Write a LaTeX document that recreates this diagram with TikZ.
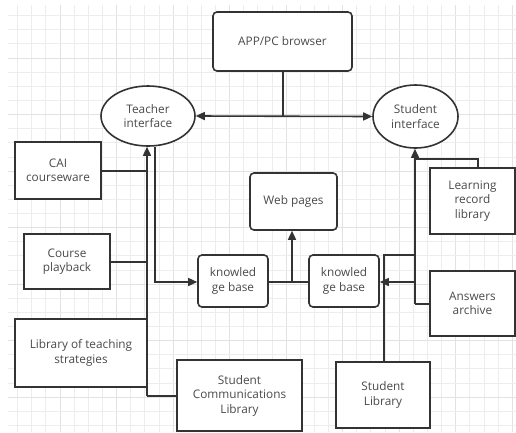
\documentclass[tikz,border=0pt]{standalone}
\usepackage{fontspec}
\setmainfont{Open Sans}
\usetikzlibrary{shapes.geometric,arrows.meta}
\definecolor{ln}{HTML}{333333}
\definecolor{tx}{HTML}{4A4A4A}
\definecolor{gmin}{HTML}{EDEDED}
\definecolor{gmaj}{HTML}{E2E2E2}
\tikzset{
  box/.style={draw=ln,line width=1.6pt,fill=white,text=tx,align=center,font=\fontsize{11.8}{14.5}\selectfont,inner sep=2pt},
  rbox/.style={box,rounded corners=4pt},
  ell/.style={box,ellipse,inner sep=0pt},
  conn/.style={draw=ln,line width=1.6pt},
  arr/.style={conn,-{Triangle[length=9pt,width=8pt]}},
  darr/.style={conn,{Triangle[length=9pt,width=8pt]}-{Triangle[length=9pt,width=8pt]}},
}
\begin{document}
\begin{tikzpicture}[x=1pt,y=-1pt]
\useasboundingbox (0,0) rectangle (516,432);
\fill[white] (0,0) rectangle (516,432);
% grid
\foreach \k in {-3,...,32}{
  \pgfmathsetmacro\gx{60+14.13*\k}
  \pgfmathtruncatemacro\mj{mod(\k+32,4)==0}
  \ifnum\mj=1 \draw[gmaj,line width=0.8pt] (\gx,5) -- (\gx,432);
  \else \draw[gmin,line width=0.8pt] (\gx,5) -- (\gx,432);\fi
}
\foreach \k in {-3,...,26}{
  \pgfmathsetmacro\gy{58+14.13*\k}
  \pgfmathtruncatemacro\mj{mod(\k+32,4)==0}
  \ifnum\mj=1 \draw[gmaj,line width=0.8pt] (8,\gy) -- (516,\gy);
  \else \draw[gmin,line width=0.8pt] (8,\gy) -- (516,\gy);\fi
}
% nodes
\node[rbox,minimum width=139pt,minimum height=59pt] (app) at (282.5,41.5) {APP/PC browser};
\node[ell,minimum width=94pt,minimum height=60pt] (teach) at (148,116) {Teacher\\interface};
\node[ell,minimum width=85pt,minimum height=63pt] (stud) at (415.5,116.5) {Student\\interface};
\node[box,minimum width=86pt,minimum height=57pt] (cai) at (58,170.5) {CAI\\courseware};
\node[box,minimum width=86pt,minimum height=55pt] (play) at (67,261.5) {Course\\playback};
\node[box,minimum width=132pt,minimum height=68pt] (strat) at (81,353) {Library of teaching\\strategies};
\node[box,minimum width=125pt,minimum height=71pt] (comm) at (239.5,395.5) {Student\\Communications\\Library};
\node[rbox,minimum width=70pt,minimum height=52pt] (kba) at (233,281) {knowled\\ge base};
\node[rbox,minimum width=70pt,minimum height=52pt] (kbb) at (344,281) {knowled\\ge base};
\node[rbox,minimum width=87pt,minimum height=57pt] (web) at (293.5,201.5) {Web pages};
\node[box,minimum width=85pt,minimum height=66pt] (lrl) at (472.5,201) {Learning\\record\\library};
\node[box,minimum width=85pt,minimum height=65pt] (ans) at (472.5,303.5) {Answers\\archive};
\node[box,minimum width=94pt,minimum height=66pt] (slib) at (383,395) {Student\\Library};
% junction coordinates
\coordinate (appdown) at (283,116);
\coordinate (tbot) at (147,396);
\coordinate (tdown) at (155,282);
\coordinate (kbmid) at (292,282);
\coordinate (sbot) at (415,304);
\coordinate (lrlup) at (478,159);
\coordinate (slup) at (384,255);
% connectors
\draw[darr] (teach.east) -- (stud.west);
\draw[conn] (app.south -| appdown) -- (appdown);
\draw[arr] (tbot) -- (tbot |- teach.south);
\draw[conn] (cai.east |- 0,171) -- (147,171);
\draw[conn] (play.east |- 0,262) -- (147,262);
\draw[conn] (tbot) -- (tbot -| comm.west);
\draw[arr] (tdown |- teach.south) -- (tdown) -- (kba.west |- tdown);
\draw[conn] (kba.east |- kbmid) -- (kbb.west |- kbmid);
\draw[arr] (kbmid) -- (web.south -| kbmid);
\draw[arr] (sbot) -- (sbot |- stud.south);
\draw[conn] (lrlup |- lrl.north) -- (lrlup) -- (lrlup -| sbot);
\draw[conn] (sbot) -- (sbot -| ans.west);
\draw[arr] (sbot |- kbmid) -- (kbb.east |- kbmid);
\draw[conn] (slup |- slib.north) -- (slup) -- (slup -| sbot);
\end{tikzpicture}
\end{document}
